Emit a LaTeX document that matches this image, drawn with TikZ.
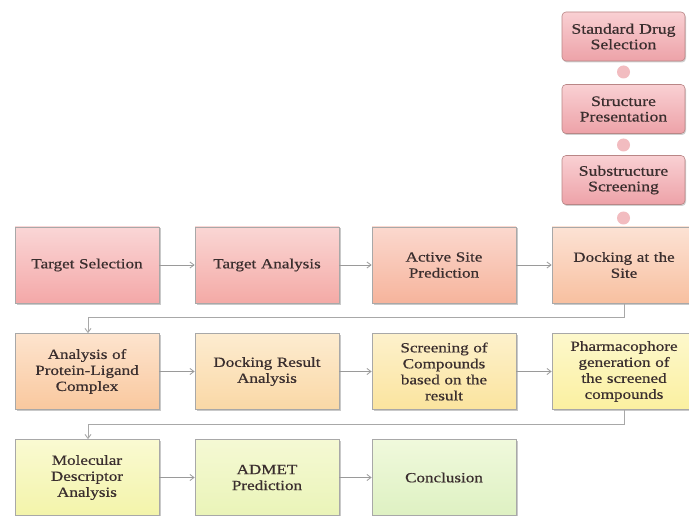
\documentclass[tikz,border=0pt]{standalone}
\usepackage{fontspec}
\setmainfont{Liberation Serif}
\newfontfamily\boxfont[FakeStretch=1.22,FakeBold=0.6]{Liberation Serif}
\usetikzlibrary{arrows.meta,shadows}
\definecolor{txt}{HTML}{3A2E2E}
\definecolor{edge}{HTML}{A8A8A8}
\definecolor{arr}{HTML}{9A9A9A}
\begin{document}
\begin{tikzpicture}[x=1pt,y=-1pt,
  box/.style={draw=edge,line width=0.8pt,minimum width=144pt,minimum height=76pt,
    text width=136pt,align=center,inner sep=2pt,
    font=\boxfont\fontsize{14}{16}\selectfont,text=txt,
    drop shadow={shadow xshift=1.5pt,shadow yshift=-1.5pt,opacity=0.35,fill=black!60}},
  topbox/.style={draw=edge!80!red,line width=0.6pt,rounded corners=4pt,
    minimum width=123pt,minimum height=49pt,text width=121pt,align=center,inner sep=1pt,
    font=\boxfont\fontsize{14.5}{15.5}\selectfont,text=txt,
    top color=topA,bottom color=topB,
    drop shadow={shadow xshift=1pt,shadow yshift=-1.5pt,opacity=0.3,fill=black!60}},
  dot/.style={circle,minimum size=13pt,inner sep=0pt,fill=dotc},
  link/.style={draw=arr,line width=0.8pt,-{Straight Barb[length=4pt,width=6pt]}},
  loop/.style={draw=edge,line width=0.9pt,-{Straight Barb[length=4pt,width=6pt]}}
]
\definecolor{topA}{HTML}{F9D0D3}
\definecolor{topB}{HTML}{EDA2A8}
\definecolor{dotc}{HTML}{F2BCC0}
\useasboundingbox (0,0) rectangle (689,516);
\fill[white] (0,0) rectangle (689,516);

% top column
\node[dot] (d1) at (623.5,72) {};
\node[dot] (d2) at (623.5,145) {};
\node[dot] (d3) at (623.5,218) {};
\node[topbox] (sds) at (623.5,36.5) {Standard Drug\\Selection};
\node[topbox] (sp) at (623.5,109) {Structure\\Presentation};
\node[topbox] (ss) at (623.5,180) {Substructure\\Screening};

% row 1
\node[box,top color={rgb,255:red,250;green,214;blue,214},bottom color={rgb,255:red,244;green,168;blue,168}] (ts) at (87,265) {Target Selection};
\node[box,top color={rgb,255:red,250;green,214;blue,212},bottom color={rgb,255:red,244;green,170;blue,166}] (ta) at (267,265) {Target Analysis};
\node[box,top color={rgb,255:red,251;green,216;blue,206},bottom color={rgb,255:red,246;green,180;blue,156}] (asp) at (444,265) {Active Site\\Prediction};
\node[box,top color={rgb,255:red,252;green,226;blue,212},bottom color={rgb,255:red,248;green,192;blue,160}] (dock) at (624,265) {Docking at the\\Site};

% row 2
\node[box,top color={rgb,255:red,253;green,228;blue,206},bottom color={rgb,255:red,249;green,200;blue,158}] (apl) at (87,371.5) {Analysis of\\Protein-Ligand\\Complex};
\node[box,top color={rgb,255:red,253;green,236;blue,208},bottom color={rgb,255:red,250;green,216;blue,166}] (dra) at (267,371.5) {Docking Result\\Analysis};
\node[box,top color={rgb,255:red,253;green,241;blue,204},bottom color={rgb,255:red,251;green,228;blue,158}] (scr) at (444,371.5) {Screening of\\Compounds\\based on the\\result};
\node[box,top color={rgb,255:red,253;green,248;blue,204},bottom color={rgb,255:red,251;green,240;blue,160}] (ph) at (624,371.5) {Pharmacophore\\generation of\\the screened\\compounds};

% row 3
\node[box,top color={rgb,255:red,250;green,250;blue,210},bottom color={rgb,255:red,243;green,244;blue,170}] (mda) at (87,477.5) {Molecular\\Descriptor\\Analysis};
\node[box,top color={rgb,255:red,245;green,249;blue,212},bottom color={rgb,255:red,234;green,244;blue,184}] (adm) at (267,477.5) {ADMET\\Prediction};
\node[box,top color={rgb,255:red,240;green,249;blue,220},bottom color={rgb,255:red,222;green,241;blue,194}] (con) at (444,477.5) {Conclusion};

% connectors
\draw[link] (ts) -- (ta);
\draw[link] (ta) -- (asp);
\draw[link] (asp) -- (dock);
\draw[link] (apl) -- (dra);
\draw[link] (dra) -- (scr);
\draw[link] (scr) -- (ph);
\draw[link] (mda) -- (adm);
\draw[link] (adm) -- (con);
\coordinate (k1) at (624,317);
\coordinate (k2) at (88,317);
\coordinate (k3) at (624,424);
\coordinate (k4) at (88,424);
\draw[loop] (dock.south) -- (k1) -- (k2) -- (k2 |- apl.north);
\draw[loop] (ph.south) -- (k3) -- (k4) -- (k4 |- mda.north);
\end{tikzpicture}
\end{document}
